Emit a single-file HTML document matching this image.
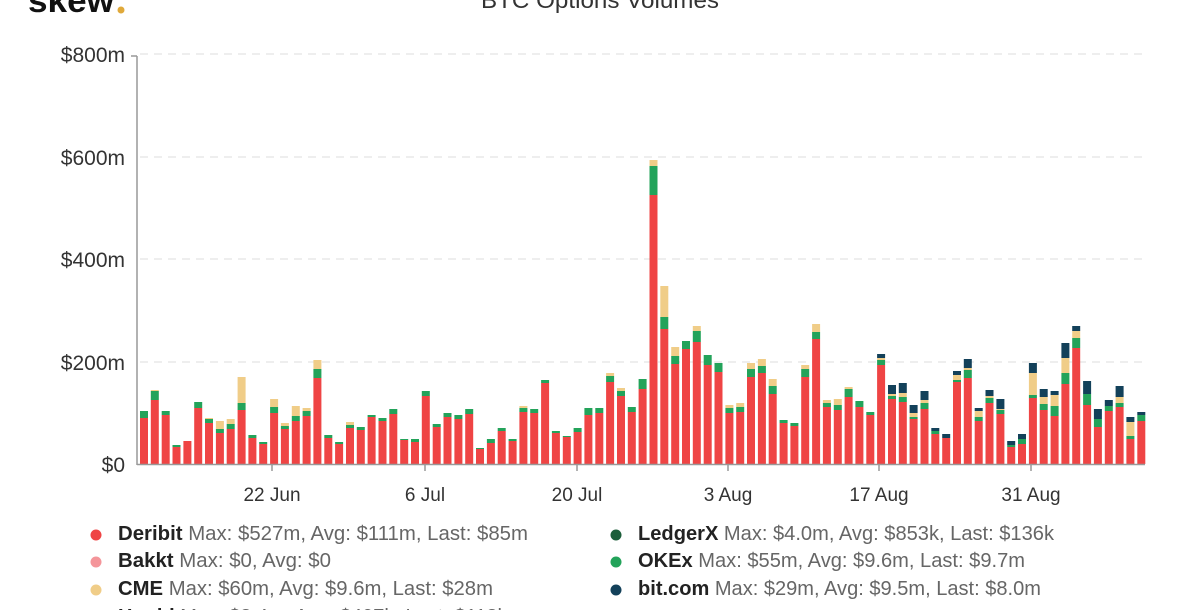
<!DOCTYPE html>
<html><head><meta charset="utf-8"><style>
body{margin:0;background:#fff;width:1200px;height:610px;overflow:hidden;font-family:"Liberation Sans",sans-serif}
svg text{font-family:"Liberation Sans",sans-serif}
</style></head><body>
<svg id="s" width="1200" height="610" xmlns="http://www.w3.org/2000/svg">
<text x="28" y="12" font-size="33" font-weight="bold" fill="#111" textLength="86" lengthAdjust="spacingAndGlyphs">skew</text><circle cx="121" cy="10" r="3.5" fill="#e0a93a"/>
<text x="600" y="8" font-size="23" fill="#333" text-anchor="middle" textLength="238" lengthAdjust="spacingAndGlyphs">BTC Options Volumes</text>
<g stroke="#ddd" stroke-dasharray="8,6" stroke-width="1">
<line x1="140" y1="54" x2="1145" y2="54"/><line x1="140" y1="157" x2="1145" y2="157"/><line x1="140" y1="259" x2="1145" y2="259"/><line x1="140" y1="362" x2="1145" y2="362"/></g>
<g font-size="21" fill="#333" text-anchor="end">
<text x="125" y="62">$800m</text><text x="125" y="165">$600m</text><text x="125" y="267">$400m</text><text x="125" y="370">$200m</text><text x="125" y="472">$0</text></g>
<g id="bars"></g>
<g stroke="#999" stroke-width="1.5"><line x1="137" y1="56" x2="137" y2="465"/><line x1="131" y1="56" x2="137" y2="56"/><line x1="137" y1="464.5" x2="1145" y2="464.5"/>
<line x1="272" y1="464" x2="272" y2="471"/><line x1="425" y1="464" x2="425" y2="471"/><line x1="577" y1="464" x2="577" y2="471"/><line x1="728" y1="464" x2="728" y2="471"/><line x1="879" y1="464" x2="879" y2="471"/><line x1="1031" y1="464" x2="1031" y2="471"/></g>
<g font-size="19" fill="#333" text-anchor="middle">
<text x="272" y="501">22 Jun</text><text x="425" y="501">6 Jul</text><text x="577" y="501">20 Jul</text><text x="728" y="501">3 Aug</text><text x="879" y="501">17 Aug</text><text x="1031" y="501">31 Aug</text></g>
<g font-size="20">
<circle cx="96" cy="535" r="5.5" fill="#ef4444"/><text x="118" y="540" textLength="410" lengthAdjust="spacingAndGlyphs"><tspan font-weight="bold" fill="#222">Deribit</tspan><tspan fill="#666"> Max: $527m, Avg: $111m, Last: $85m</tspan></text>
<circle cx="96" cy="562" r="5.5" fill="#f4959a"/><text x="118" y="567" textLength="213" lengthAdjust="spacingAndGlyphs"><tspan font-weight="bold" fill="#222">Bakkt</tspan><tspan fill="#666"> Max: $0, Avg: $0</tspan></text>
<circle cx="96" cy="590" r="5.5" fill="#f0cd88"/><text x="118" y="595" textLength="375" lengthAdjust="spacingAndGlyphs"><tspan font-weight="bold" fill="#222">CME</tspan><tspan fill="#666"> Max: $60m, Avg: $9.6m, Last: $28m</tspan></text>
<text x="118" y="623"><tspan font-weight="bold" fill="#222">Huobi</tspan><tspan fill="#666"> Max: $3.4m, Avg: $407k, Last: $113k</tspan></text>
<circle cx="616" cy="535" r="5.5" fill="#1c5e3a"/><text x="638" y="540" textLength="416" lengthAdjust="spacingAndGlyphs"><tspan font-weight="bold" fill="#222">LedgerX</tspan><tspan fill="#666"> Max: $4.0m, Avg: $853k, Last: $136k</tspan></text>
<circle cx="616" cy="562" r="5.5" fill="#23a35a"/><text x="638" y="567" textLength="387" lengthAdjust="spacingAndGlyphs"><tspan font-weight="bold" fill="#222">OKEx</tspan><tspan fill="#666"> Max: $55m, Avg: $9.6m, Last: $9.7m</tspan></text>
<circle cx="616" cy="590" r="5.5" fill="#13415a"/><text x="638" y="595" textLength="403" lengthAdjust="spacingAndGlyphs"><tspan font-weight="bold" fill="#222">bit.com</tspan><tspan fill="#666"> Max: $29m, Avg: $9.5m, Last: $8.0m</tspan></text>
</g>
</svg>
<script>
var d=[[418,411],[400,391,390],[415,411],[447,445],[441],[408,402],[423,419,418],[433,429,421],[429,424,419],[410,403,377],[438,435],[444,442],[413,407,399],[429,426,423],[421,416,406],[416,411,408],[378,369,360],[438,435],[444,442],[428,425,422],[430,427],[417,415],[421,418],[414,409],
[440,439],[442,439],[396,391],[427,424],[417,413],[419,415],[414,409],[449,448],[443,439],[431,428],[441,439],[412,408,406],[413,409],[383,380],[433,431],[437,436],[432,428],[415,408],[413,408],[382,376,373],[396,391,388],[412,407],[389,379],
[195,166,160],[329,317,286],[364,356,347],[349,341],[342,331,326],[365,355],[372,363],[413,408,405],[412,407,403],[377,369,363],[373,366,359],[394,386,379],[423,420],[426,423],[377,369,365],[339,332,324],[407,403,400],[410,405,399],[397,389,387],[407,401],[415,412],[365,360,358,354],[399,396,394,385],
[402,397,393,383],[419,417,413,405],[409,403,400,391],[434,431,431,428],[438,438,438,434],[382,380,375,371],[378,370,368,359],[421,417,411,408],[403,398,396,390],[414,410,409,399],[447,445,445,441],[444,439,439,434],[398,395,373,363],[410,404,397,389],[416,406,395,391],[384,373,358,343],[348,338,331,326],[405,394,394,381],[427,419,419,409],[411,406,406,400],[407,403,397,386],[439,436,422,417],[421,415,415,412]];
var c=["#ef4444","#23a35a","#f0cd88","#13415a"],h="";
d.forEach(function(b,i){var x=144+i*10.84-4,prev=464;for(var k=0;k<b.length;k++){if(b[k]<prev){h+='<rect x="'+x.toFixed(1)+'" y="'+b[k]+'" width="8" height="'+(prev-b[k])+'" fill="'+c[k]+'"/>';prev=b[k];}}});
document.getElementById("bars").innerHTML=h;
</script>
</body></html>
